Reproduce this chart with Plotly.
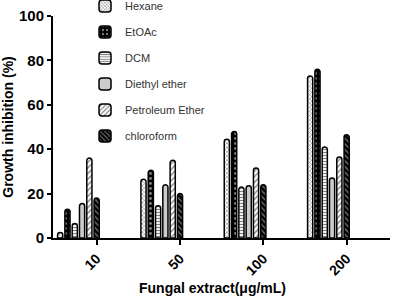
import plotly.graph_objects as go

categories = ["10", "50", "100", "200"]
series_names = ["Hexane", "EtOAc", "DCM", "Diethyl ether", "Petroleum Ether", "chloroform"]
hexane = [2.5, 26.5, 44.5, 73]
etoac = [13, 30.5, 48, 76]
dcm = [6.5, 14.5, 23, 41]
diethyl = [15.5, 24, 23.5, 27]
petroleum = [36, 35, 31.5, 36.5]
chloroform = [18, 20, 24, 46.5]
series_values = [hexane, etoac, dcm, diethyl, petroleum, chloroform]
y_ticks = [0, 20, 40, 60, 80, 100]

patterns = [
    dict(shape="x", fgcolor="black", bgcolor="white", size=3, solidity=0.35),
    dict(shape=".", fgcolor="white", bgcolor="black", size=5, solidity=0.25),
    dict(shape="-", fgcolor="black", bgcolor="white", size=3, solidity=0.4),
    dict(shape="|", fgcolor="#333", bgcolor="white", size=2, solidity=0.5),
    dict(shape="/", fgcolor="black", bgcolor="white", size=4, solidity=0.35),
    dict(shape="\\", fgcolor="white", bgcolor="black", size=4, solidity=0.3),
]

FONT = "Liberation Sans, Arial, sans-serif"
pitch = 0.0876
width = 0.062

fig = go.Figure()
n = len(series_names)
for k, (name, vals, pat) in enumerate(zip(series_names, series_values, patterns)):
    fig.add_trace(go.Bar(
        x=categories, y=vals, name=name,
        width=width, offset=-(n - 1 - k) * pitch - width / 2,
        marker=dict(color="white", pattern=pat, line=dict(color="black", width=1.5), cornerradius=3),
        legendgroup=name,
    ))

fig.add_annotation(text="<b>Fungal extract(μg/mL)</b>", xref="paper", yref="paper",
                   x=0.472, y=-0.225, xanchor="center", yanchor="middle", showarrow=False,
                   font=dict(family=FONT, size=14, color="black"))

fig.update_layout(
    width=397, height=296,
    margin=dict(l=53, r=7, t=16, b=58, autoexpand=False),
    plot_bgcolor="white", paper_bgcolor="white",
    barmode="overlay",
    showlegend=True,
    legend=dict(x=0.095, y=1.11, xanchor="left", yanchor="top",
                font=dict(family=FONT, size=11, color="#333"),
                tracegroupgap=7, bgcolor="rgba(0,0,0,0)", maxheight=1.0),
    font=dict(family=FONT, color="black"),
    xaxis=dict(type="category", range=[-0.524, 3.52],
               showline=True, linecolor="black", linewidth=2,
               ticks="outside", ticklen=5, tickwidth=2, tickcolor="black",
               tickangle=-45, tickfont=dict(size=14, family=FONT, weight="bold"),
               showgrid=False, zeroline=False, automargin=False),
    yaxis=dict(range=[0, 100], tickvals=y_ticks,
               showline=True, linecolor="black", linewidth=2,
               ticks="outside", ticklen=4, tickwidth=2, tickcolor="black",
               tickfont=dict(size=15, family=FONT, weight="bold"),
               title=dict(text="<b>Growth inhibition (%)</b>", font=dict(size=14, family=FONT), standoff=4),
               showgrid=False, zeroline=False, automargin=False),
)

fig.write_html("out.html", config={"displayModeBar": False},
               post_script="document.body.style.margin='0';")
